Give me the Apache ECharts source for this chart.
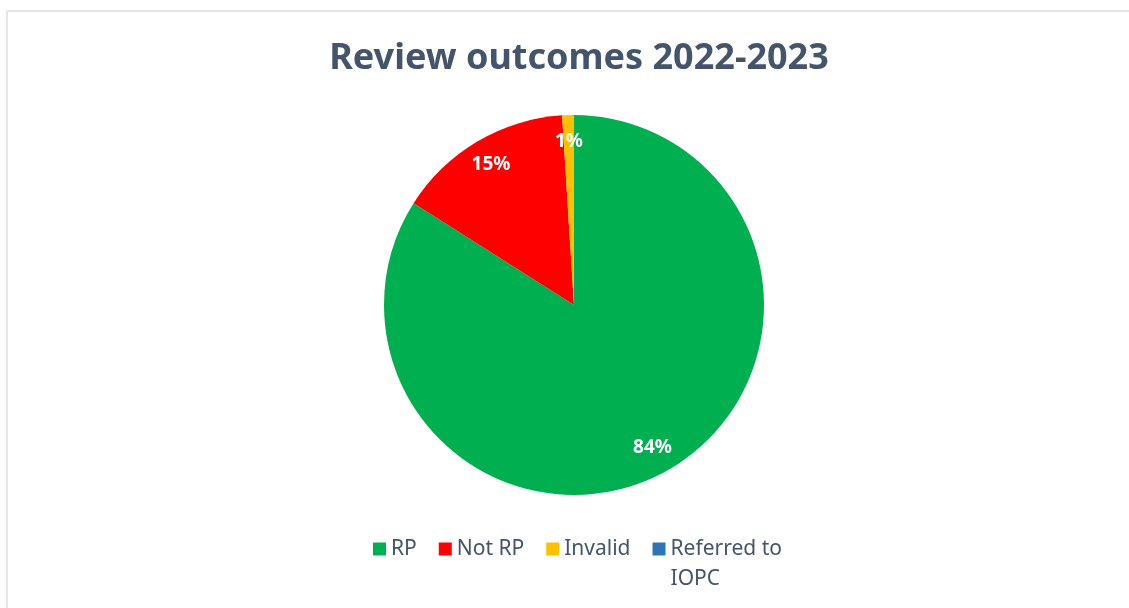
<!DOCTYPE html>
<html>
<head>
<meta charset="utf-8">
<script src="https://cdn.jsdelivr.net/npm/echarts@6/dist/echarts.min.js"></script>
<style>
  html, body { margin: 0; padding: 0; background: #ffffff; }
  #frame { position: absolute; left: 6px; top: 10px; width: 1200px; height: 700px;
           border-left: 2px solid #E3E6ED; border-top: 2px solid #E3E6ED; }
  #chart { position: absolute; left: 0; top: 0; width: 1129px; height: 608px; }
</style>
</head>
<body>
<div id="frame"></div>
<div id="chart"></div>
<script>
const titleText = 'Review outcomes 2022-2023';
const categories = ['RP', 'Not RP', 'Invalid', 'Referred to IOPC'];
const values = [84, 15, 1, 0];
const colors = ['#00B050', '#FF0000', '#FFC000', '#2E75B6'];

const chart = echarts.init(document.getElementById('chart'), null, { renderer: 'canvas' });

const pieData = categories.map((c, i) => ({ name: c, value: values[i], itemStyle: { color: colors[i] } }));
const labelData = categories.map((c, i) => ({ name: c, value: values[i] }));

const option = {
  animation: false,
  title: {
    text: titleText,
    left: 574,
    top: 36,
    textAlign: 'center',
    textStyle: { fontFamily: '"Noto Sans", sans-serif', fontWeight: 'bold', fontSize: 36, color: '#44546A' }
  },
  legend: {
    left: 368,
    top: 499,
    orient: 'horizontal',
    itemWidth: 13,
    itemHeight: 13,
    itemGap: 22,
    icon: 'rect',
    selectedMode: false,
    formatter: n => n === 'Referred to IOPC' ? ' \nReferred to\nIOPC' : n,
    textStyle: { fontFamily: '"Noto Sans", sans-serif', fontSize: 21, color: '#44546A', lineHeight: 30 },
    data: categories
  },
  series: [
    {
      type: 'pie',
      center: [574, 305],
      radius: [0, 190],
      startAngle: 90,
      clockwise: true,
      avoidLabelOverlap: false,
      silent: true,
      label: { show: false },
      labelLine: { show: false },
      itemStyle: { borderWidth: 0 },
      data: pieData
    },
    {
      type: 'pie',
      center: [574, 305],
      radius: [130, 190],
      startAngle: 90,
      clockwise: true,
      avoidLabelOverlap: false,
      silent: true,
      itemStyle: { color: 'rgba(0,0,0,0)', borderWidth: 0 },
      label: {
        show: true,
        position: 'inside',
        formatter: p => p.value > 0 ? Math.round(p.percent) + '%' : '',
        fontFamily: '"Noto Sans", sans-serif',
        fontWeight: 'bold',
        fontSize: 19,
        color: '#ffffff'
      },
      labelLine: { show: false },
      data: labelData
    }
  ]
};
chart.setOption(option);
</script>
</body>
</html>
